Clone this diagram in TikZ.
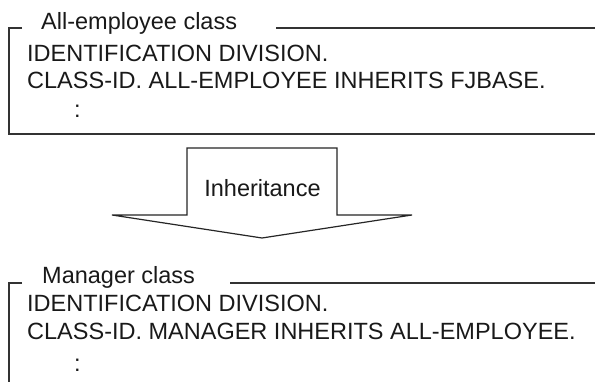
\documentclass[tikz,border=0pt]{standalone}
\usepackage{fontspec}
\setmainfont{Liberation Sans}
\begin{document}
\begin{tikzpicture}[x=1pt,y=-1pt,
  txt/.style={anchor=base west,inner sep=0pt,font=\fontsize{23.5}{26}\selectfont,text=black!90},
  frame/.style={draw=black!80,line width=2pt},
  arrowshape/.style={draw=black!85,line width=1.2pt,fill=white}]
\useasboundingbox (0,0) rectangle (595,382);
% top box
\node[txt] (t1) at (41,30) {All-employee class};
\node[txt] (a1) at (27,62) {IDENTIFICATION DIVISION.};
\node[txt] (a2) at (27,89) {CLASS-ID. ALL-EMPLOYEE INHERITS FJBASE.};
\node[txt] (a3) at (74,118) {:};
\coordinate (tl1) at (22,28);
\coordinate (tr1) at (276,28);
\draw[frame] (tl1) -- (8.5,28) -- (8.5,134.5) -- (595,134.5);
\draw[frame] (tr1) -- (595,28);
% arrow
\draw[arrowshape] (187,148) -- (337,148) -- (337,215) -- (412,215) -- (262,238) -- (112,215) -- (187,215) -- cycle;
\node[txt,anchor=base] (inh) at (262.5,197) {Inheritance};
% bottom box
\node[txt] (t2) at (42,284) {Manager class};
\node[txt] (b1) at (27,312) {IDENTIFICATION DIVISION.};
\node[txt] (b2) at (27,340) {CLASS-ID. MANAGER INHERITS ALL-EMPLOYEE.};
\node[txt] (b3) at (74,371) {:};
\coordinate (tl2) at (22,283);
\coordinate (tr2) at (230,283);
\draw[frame] (tl2) -- (8.5,283) -- (8.5,382);
\draw[frame] (tr2) -- (595,283);
\end{tikzpicture}
\end{document}
